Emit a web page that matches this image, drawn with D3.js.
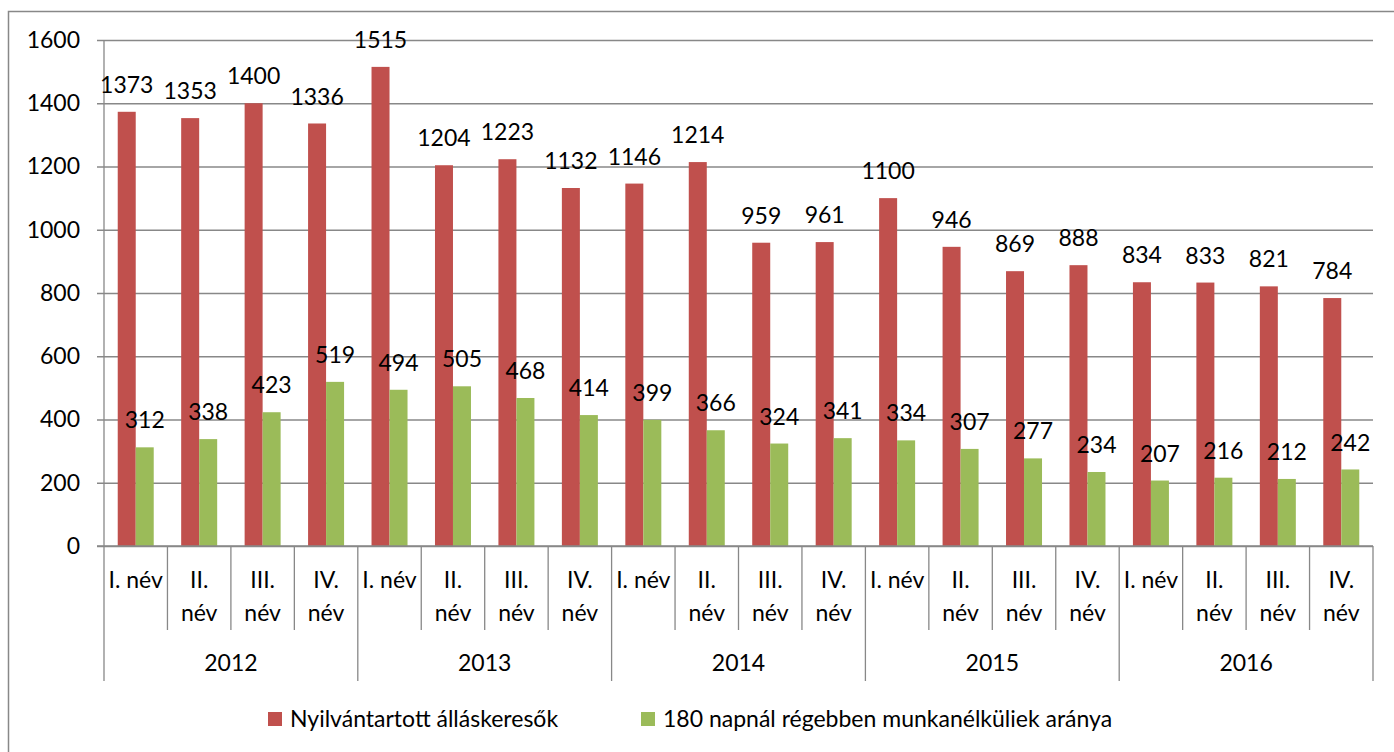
<!DOCTYPE html>
<html>
<head>
<meta charset="utf-8">
<script src="https://cdn.jsdelivr.net/npm/d3@7"></script>
<style>
  body { margin: 0; background: #fff; }
  svg { display: block; font-family: Lato, "Open Sans", sans-serif; }
</style>
</head>
<body>
<svg width="1394" height="752"></svg>
<script>
// adatok
const years = ["2012", "2013", "2014", "2015", "2016"];
const quarterLines = [["I. név"], ["II.", "név"], ["III.", "név"], ["IV.", "név"]];
const seriesNames = ["Nyilvántartott álláskeresők", "180 napnál régebben munkanélküliek aránya"];
const registered = [1373, 1353, 1400, 1336, 1515, 1204, 1223, 1132, 1146, 1214, 959, 961, 1100, 946, 869, 888, 834, 833, 821, 784];
const longTerm = [312, 338, 423, 519, 494, 505, 468, 414, 399, 366, 324, 341, 334, 307, 277, 234, 207, 216, 212, 242];
const yTicks = [0, 200, 400, 600, 800, 1000, 1200, 1400, 1600];
const colors = ["#c0504d", "#9bbb59"];

const margin = { top: 40, right: 21, bottom: 206, left: 104 };
const W = 1394, H = 752;
const width = W - margin.left - margin.right;
const height = H - margin.top - margin.bottom;
const axisColor = "#888888";
const fs = 23;

const svg = d3.select("svg");

// külső keret
svg.append("rect")
  .attr("x", 8.5).attr("y", 11.5)
  .attr("width", 1420).attr("height", 800)
  .attr("fill", "none").attr("stroke", axisColor).attr("stroke-width", 1.5);

const g = svg.append("g").attr("transform", `translate(${margin.left},${margin.top})`);

const cats = d3.range(registered.length);
const x0 = d3.scaleBand().domain(cats).range([0, width]).paddingInner(0).paddingOuter(0);
const x1 = d3.scaleBand().domain([0, 1]).range([0, x0.bandwidth()]).paddingInner(0).paddingOuter(0.7625);
const y = d3.scaleLinear().domain([0, 1600]).range([height, 0]);

// rácsvonalak + y tengely
const yAxis = g.append("g")
  .call(d3.axisLeft(y).tickValues(yTicks).tickFormat(d3.format("d")).tickSize(-width).tickSizeOuter(0).tickPadding(24));
yAxis.select(".domain").remove();
yAxis.selectAll(".tick line").attr("stroke", axisColor).attr("stroke-width", 1.3).attr("x1", -7);
yAxis.selectAll(".tick text").attr("font-size", fs).attr("fill", "#000").attr("font-family", "Lato, 'Open Sans', sans-serif");

// függőleges tengelyvonal
g.append("line")
  .attr("x1", 0).attr("x2", 0).attr("y1", 0).attr("y2", height)
  .attr("stroke", axisColor).attr("stroke-width", 1.3);

// oszlopok
const series = [registered, longTerm];
series.forEach((vals, si) => {
  g.append("g").selectAll("rect")
    .data(vals)
    .join("rect")
    .attr("x", (d, i) => x0(i) + x1(si))
    .attr("y", d => y(d))
    .attr("width", x1.bandwidth())
    .attr("height", d => height - y(d))
    .attr("fill", colors[si]);

  g.append("g").selectAll("text")
    .data(vals)
    .join("text")
    .attr("x", (d, i) => x0(i) + x1(si) + x1.bandwidth() / 2)
    .attr("y", d => y(d) - 27)
    .attr("dy", "0.35em")
    .attr("text-anchor", "middle")
    .attr("font-size", fs)
    .attr("fill", "#000")
    .text(d => d);
});

// x tengely vonal
g.append("line")
  .attr("x1", -7).attr("x2", width).attr("y1", height).attr("y2", height)
  .attr("stroke", axisColor).attr("stroke-width", 1.5);

// negyedéves elválasztók és címkék
const quarterBottom = 84, yearBottom = 135;
const boundaries = d3.range(registered.length + 1);
g.append("g").selectAll("line")
  .data(boundaries)
  .join("line")
  .attr("x1", i => i < registered.length ? x0(i) : width)
  .attr("x2", i => i < registered.length ? x0(i) : width)
  .attr("y1", height)
  .attr("y2", i => height + (i % 4 === 0 ? yearBottom : quarterBottom))
  .attr("stroke", axisColor).attr("stroke-width", 1.3);

const qLabels = g.append("g").selectAll("text")
  .data(cats)
  .join("text")
  .attr("text-anchor", "middle")
  .attr("font-size", fs)
  .attr("fill", "#000");
qLabels.each(function (i) {
  const lines = quarterLines[i % 4];
  d3.select(this).selectAll("tspan")
    .data(lines)
    .join("tspan")
    .attr("x", x0(i) + x0.bandwidth() / 2)
    .attr("y", (l, li) => height + 34 + li * 33)
    .attr("dy", "0.35em")
    .text(l => l);
});

// évek
const yearBand = d3.scaleBand().domain(years).range([0, width]);
g.append("g").selectAll("text")
  .data(years)
  .join("text")
  .attr("x", d => yearBand(d) + yearBand.bandwidth() / 2)
  .attr("y", height + 117)
  .attr("dy", "0.35em")
  .attr("text-anchor", "middle")
  .attr("font-size", fs)
  .attr("fill", "#000")
  .text(d => d);

// jelmagyarázat
const legendX = [268, 641];
const legend = svg.append("g").selectAll("g")
  .data(seriesNames)
  .join("g")
  .attr("transform", (d, i) => `translate(${legendX[i]},719)`);
legend.append("rect")
  .attr("x", 0).attr("y", -7).attr("width", 14).attr("height", 14)
  .attr("fill", (d, i) => colors[i]);
legend.append("text")
  .attr("x", 22).attr("dy", "0.35em")
  .attr("font-size", fs)
  .attr("fill", "#000")
  .text(d => d);
</script>
</body>
</html>
